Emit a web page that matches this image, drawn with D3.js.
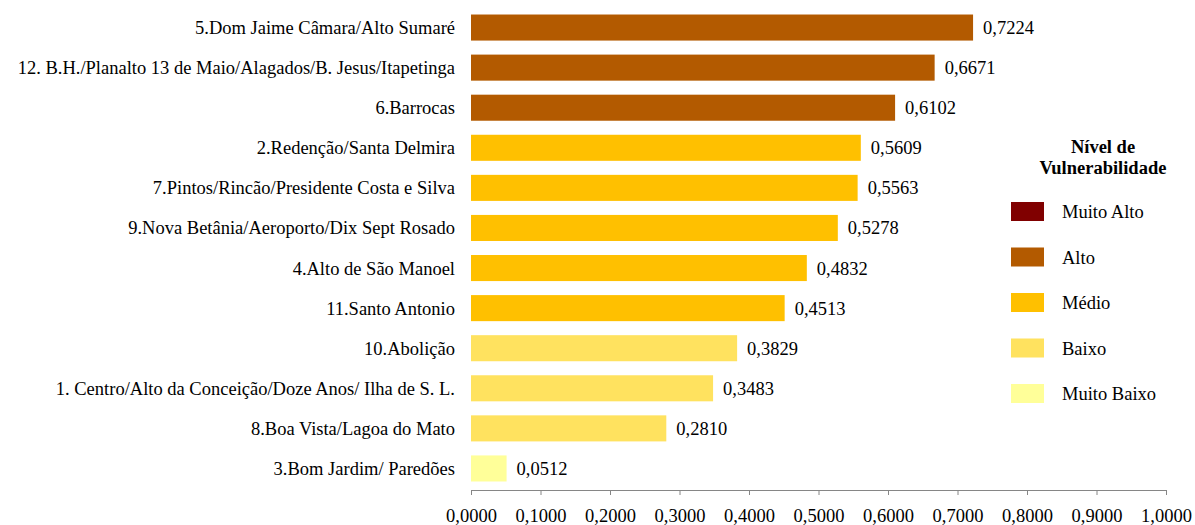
<!DOCTYPE html>
<html><head><meta charset="utf-8">
<script src="https://cdn.jsdelivr.net/npm/d3@7"></script>
<style>body{margin:0;background:#fff}svg{display:block}</style>
</head><body><svg id="c" width="1195" height="525"></svg>
<script>
const categories = ["5.Dom Jaime Câmara/Alto Sumaré","12. B.H./Planalto 13 de Maio/Alagados/B. Jesus/Itapetinga","6.Barrocas","2.Redenção/Santa Delmira","7.Pintos/Rincão/Presidente Costa e Silva","9.Nova Betânia/Aeroporto/Dix Sept Rosado","4.Alto de São Manoel","11.Santo Antonio","10.Abolição","1. Centro/Alto da Conceição/Doze Anos/ Ilha de S. L.","8.Boa Vista/Lagoa do Mato","3.Bom Jardim/ Paredões"];
const values = [0.7224,0.6671,0.6102,0.5609,0.5563,0.5278,0.4832,0.4513,0.3829,0.3483,0.2810,0.0512];
const levels = ["Alto","Alto","Alto","Médio","Médio","Médio","Médio","Médio","Baixo","Baixo","Baixo","Muito Baixo"];
const legendLevels = ["Muito Alto","Alto","Médio","Baixo","Muito Baixo"];
const legendColors = ["#800000","#B35A00","#FFC000","#FFE25F","#FFFF99"];
const xTicks = [0,0.1,0.2,0.3,0.4,0.5,0.6,0.7,0.8,0.9,1.0];

const FONT = "'Liberation Serif', 'Times New Roman', serif";
const FS = 18.5;
const svg = d3.select("#c").attr("font-family",FONT);
const x = d3.scaleLinear().domain([0,1]).range([471,1166]);
const y = d3.scaleBand().domain(categories).range([7.5,488.5]).paddingInner(0.35).paddingOuter(0.175);
const color = d3.scaleOrdinal().domain(legendLevels).range(legendColors);
const fmt = v => d3.format(".4f")(v).replace(".",",");

svg.selectAll("rect.bar").data(categories).join("rect").attr("class","bar")
  .attr("x",x(0)).attr("y",d=>y(d)).attr("height",y.bandwidth())
  .attr("width",(d,i)=>x(values[i])-x(0)).attr("fill",(d,i)=>color(levels[i]));

svg.selectAll("text.val").data(categories).join("text").attr("class","val")
  .attr("x",(d,i)=>x(values[i])+10).attr("y",d=>y(d)+y.bandwidth()/2+6.5)
  .attr("font-family",FONT).attr("font-size",FS).text((d,i)=>fmt(values[i]));

svg.selectAll("text.cat").data(categories).join("text").attr("class","cat")
  .attr("x",455).attr("y",d=>y(d)+y.bandwidth()/2+6.5).attr("text-anchor","end")
  .attr("font-family",FONT).attr("font-size",FS).text(d=>d);

const ax = svg.append("g").attr("transform","translate(0,490)")
  .call(d3.axisBottom(x).tickValues(xTicks).tickSize(5).tickSizeOuter(0).tickFormat(fmt));
ax.attr("font-family",FONT).attr("font-size",FS);
ax.select(".domain").attr("stroke","#868686");
ax.selectAll(".tick line").attr("stroke","#868686");
ax.selectAll(".tick text").attr("dy",0).attr("y",32).attr("fill","#000");

const lg = svg.append("g").attr("font-family",FONT);
lg.append("text").attr("x",1103).attr("y",153).attr("text-anchor","middle").attr("font-size",FS).attr("font-weight","bold").text("Nível de");
lg.append("text").attr("x",1103).attr("y",174).attr("text-anchor","middle").attr("font-size",FS).attr("font-weight","bold").text("Vulnerabilidade");
legendLevels.forEach((l,i)=>{
  const yy = 202 + i*45.5;
  lg.append("rect").attr("x",1011).attr("y",yy).attr("width",33).attr("height",19).attr("fill",color(l));
  lg.append("text").attr("x",1062).attr("y",yy+16).attr("font-size",FS).text(l);
});
</script></body></html>
